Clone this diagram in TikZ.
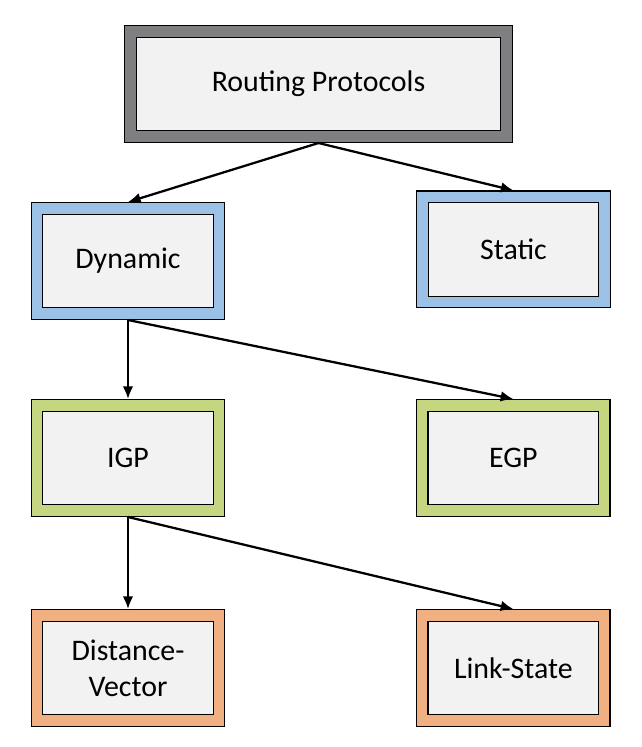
\documentclass[tikz,border=0pt]{standalone}
\usepackage{fontspec}
\setmainfont{Carlito}
\usetikzlibrary{positioning,arrows.meta}

\definecolor{rootband}{RGB}{127,127,130}
\definecolor{blueband}{RGB}{155,194,230}
\definecolor{greenband}{RGB}{196,214,128}
\definecolor{orangeband}{RGB}{240,176,130}
\definecolor{boxfill}{RGB}{242,242,242}

\tikzset{
  proto/.style={draw=black, line width=1pt, double distance=7.7pt,
    fill=boxfill, outer sep=4.85pt, minimum width=136.5pt,
    minimum height=78.8pt, align=center, inner sep=2pt,
    font=\fontsize{22.4}{27}\selectfont},
  link/.style={->, line width=1.7pt}
}

\begin{document}
\begin{tikzpicture}[>={Latex[length=9.5pt,width=8pt]},node distance=2cm,on grid]
	\useasboundingbox (-238.9pt,63pt) rectangle (241.9pt,-497.25pt);
	\node[proto,double=rootband,minimum width=282pt] (routing) {Routing Protocols};
	\node[proto,double=blueband] (dynamic) [below left=132.75pt and 142.9pt of routing] {Dynamic};
	\node[proto,double=blueband] (static) [below right=124.1pt and 146.25pt of routing] {Static};
	\node[proto,double=greenband] (igp) [below=147.75pt of dynamic] {IGP};
	\node[proto,double=greenband] (egp) [right=289pt of igp] {EGP};
	\node[proto,double=orangeband] (dv) [below=157.5pt of igp] {Distance-\\Vector};
	\node[proto,double=orangeband] (ls) [right=289pt of dv] {Link-State};
	\draw[link] (routing.south) -- (dynamic.north);
	\draw[link] (routing.south) -- (static.north);
	\draw[link] (dynamic.south) -- (igp.north);
	\draw[link] (dynamic.south) -- (egp.north);
	\draw[link] (igp.south) -- (dv.north);
	\draw[link] (igp.south) -- (ls.north);
\end{tikzpicture}
\end{document}
